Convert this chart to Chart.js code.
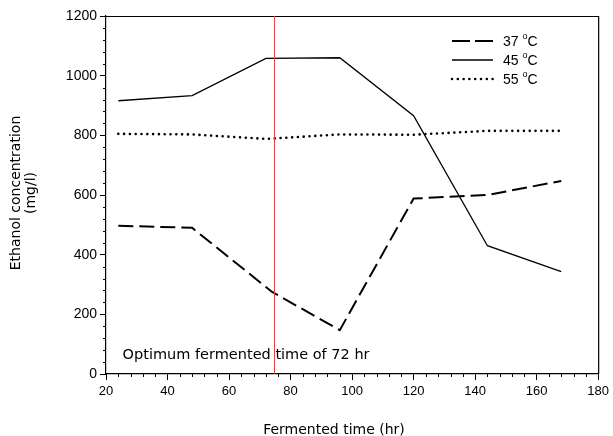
<!DOCTYPE html>
<html>
<head>
<meta charset="utf-8">
<script src="https://cdn.jsdelivr.net/npm/chart.js@4/dist/chart.umd.min.js"></script>
<style>
  html, body { margin: 0; padding: 0; background: #fff; }
  #wrap { width: 613px; height: 436px; }
</style>
</head>
<body>
<div id="wrap"><canvas id="c" width="613" height="436"></canvas></div>
<script>
// Sampling times (hr)
const times = [24, 48, 72, 96, 120, 144, 168];
const times37 = [24, 48, 74, 96, 120, 144, 168];

// Ethanol concentration (mg/l) per fermentation temperature
const ethanol37 = [497, 490, 275, 147, 588, 600, 647];
const ethanol45 = [916, 933, 1058, 1060, 866, 430, 343];
const ethanol55 = [805, 803, 788, 803, 802, 815, 815];

const tempLabels = ['37', '45', '55'];

// Axis ticks
const xTicks = [20, 40, 60, 80, 100, 120, 140, 160, 180];
const yTicks = [0, 200, 400, 600, 800, 1000, 1200];

// Optimum time marker and its note
const optimumX = 74.5;
const optimumNote = 'Optimum fermented time of 72 hr';
const noteAt = [25.4, 64];

const xTitle = 'Fermented time (hr)';
const yTitle = ['Ethanol concentration', '(mg/l)'];

const pts = (xs, ys) => xs.map((x, i) => ({ x: x, y: ys[i] }));

const tickFamily = '"Liberation Sans", Arial, sans-serif';
const titleFont = '14px "DejaVu Sans", sans-serif';
const noteFont = '14.5px "DejaVu Sans", sans-serif';

// Minor tick marks, frame, marker line, note, titles and legend
const decor = {
  id: 'decor',
  afterDraw(chart) {
    const ctx = chart.ctx;
    const a = chart.chartArea;
    const xs = chart.scales.x, ys = chart.scales.y;
    ctx.save();

    // minor ticks
    ctx.strokeStyle = '#000';
    ctx.lineWidth = 1;
    ctx.beginPath();
    for (let v = 0; v <= 1200; v += 40) {
      if (v % 200 === 0) continue;
      const py = Math.round(ys.getPixelForValue(v)) + 0.5;
      ctx.moveTo(a.left - 3, py); ctx.lineTo(a.left, py);
    }
    for (let v = 20; v <= 180; v += 4) {
      if (v % 20 === 0) continue;
      const px = Math.round(xs.getPixelForValue(v)) + 0.5;
      ctx.moveTo(px, a.bottom); ctx.lineTo(px, a.bottom + 3);
    }
    ctx.stroke();

    // frame top and right
    ctx.lineWidth = 1.2;
    ctx.beginPath();
    ctx.moveTo(a.left, a.top + 0.5); ctx.lineTo(a.right + 0.5, a.top + 0.5);
    ctx.lineTo(a.right + 0.5, a.bottom);
    ctx.stroke();

    // optimum marker
    const mx = Math.round(xs.getPixelForValue(optimumX)) + 0.5;
    ctx.strokeStyle = 'rgb(225,70,70)';
    ctx.lineWidth = 1;
    ctx.beginPath();
    ctx.moveTo(mx, a.top); ctx.lineTo(mx, a.bottom);
    ctx.stroke();

    // note
    ctx.fillStyle = '#000';
    ctx.font = noteFont;
    ctx.textBaseline = 'middle';
    ctx.textAlign = 'left';
    ctx.fillText(optimumNote, xs.getPixelForValue(noteAt[0]), ys.getPixelForValue(noteAt[1]));

    // x title
    ctx.font = titleFont;
    ctx.textAlign = 'center';
    ctx.fillText(xTitle, a.left + 228, 430);

    // y title
    ctx.save();
    ctx.translate(16, 193);
    ctx.rotate(-Math.PI / 2);
    ctx.fillText(yTitle[0], 0, 0);
    ctx.restore();
    ctx.save();
    ctx.translate(31, 193);
    ctx.rotate(-Math.PI / 2);
    ctx.fillText(yTitle[1], 0, 0);
    ctx.restore();

    // legend
    const lx0 = 452, lx1 = 493, tx = 503;
    const rows = [41, 60, 79];
    chart.data.datasets.forEach((ds, i) => {
      const y = rows[i];
      ctx.strokeStyle = '#000';
      ctx.lineWidth = ds.borderWidth;
      ctx.lineCap = ds.borderCapStyle || 'butt';
      ctx.setLineDash(ds.legendDash || ds.borderDash || []);
      ctx.beginPath();
      ctx.moveTo(lx0, y); ctx.lineTo(lx1, y);
      ctx.stroke();
      ctx.setLineDash([]);
      ctx.lineCap = 'butt';
      ctx.fillStyle = '#000';
      ctx.textAlign = 'left';
      ctx.textBaseline = 'middle';
      ctx.font = '14px ' + tickFamily;
      const num = tempLabels[i] + ' ';
      ctx.fillText(num, tx, y + 1);
      let w = ctx.measureText(num).width;
      ctx.font = '9px ' + tickFamily;
      ctx.fillText('o', tx + w, y - 4);
      w += ctx.measureText('o').width;
      ctx.font = '14px ' + tickFamily;
      ctx.fillText('C', tx + w, y + 1);
    });
    ctx.restore();
  }
};

new Chart(document.getElementById('c'), {
  type: 'line',
  data: {
    datasets: [
      {
        label: tempLabels[0] + ' °C',
        data: pts(times37, ethanol37),
        borderColor: '#000',
        borderWidth: 2,
        borderDash: [15, 6],
        legendDash: [18, 5],
        pointRadius: 0,
        tension: 0,
        fill: false
      },
      {
        label: tempLabels[1] + ' °C',
        data: pts(times, ethanol45),
        borderColor: '#000',
        borderWidth: 1.3,
        pointRadius: 0,
        tension: 0,
        fill: false
      },
      {
        label: tempLabels[2] + ' °C',
        data: pts(times, ethanol55),
        borderColor: '#000',
        borderWidth: 2.6,
        borderDash: [0, 5.8],
        borderCapStyle: 'round',
        pointRadius: 0,
        tension: 0,
        fill: false
      }
    ]
  },
  options: {
    responsive: false,
    animation: false,
    devicePixelRatio: 1,
    layout: { padding: { top: 16, right: 10, left: 0, bottom: 0 } },
    plugins: {
      legend: { display: false },
      tooltip: { enabled: false }
    },
    scales: {
      x: {
        type: 'linear',
        min: xTicks[0],
        max: xTicks[xTicks.length - 1],
        afterBuildTicks: (s) => { s.ticks = xTicks.map(v => ({ value: v })); },
        afterFit: (s) => { s.height = 62; },
        grid: { drawOnChartArea: false, tickLength: 6, color: '#000', tickWidth: 1 },
        border: { color: '#000', width: 1.2 },
        ticks: {
          color: '#000',
          padding: 4,
          maxRotation: 0,
          autoSkip: false,
          callback: (v) => String(v),
          font: { family: tickFamily, size: 13 }
        }
      },
      y: {
        type: 'linear',
        min: yTicks[0],
        max: yTicks[yTicks.length - 1],
        afterBuildTicks: (s) => { s.ticks = yTicks.map(v => ({ value: v })); },
        afterFit: (s) => { s.width = 106; },
        grid: { drawOnChartArea: false, tickLength: 6, color: '#000', tickWidth: 1 },
        border: { color: '#000', width: 1.2 },
        ticks: {
          color: '#000',
          padding: 3,
          autoSkip: false,
          callback: (v) => String(v),
          font: { family: tickFamily, size: 14 }
        }
      }
    }
  },
  plugins: [decor]
});
</script>
</body>
</html>
